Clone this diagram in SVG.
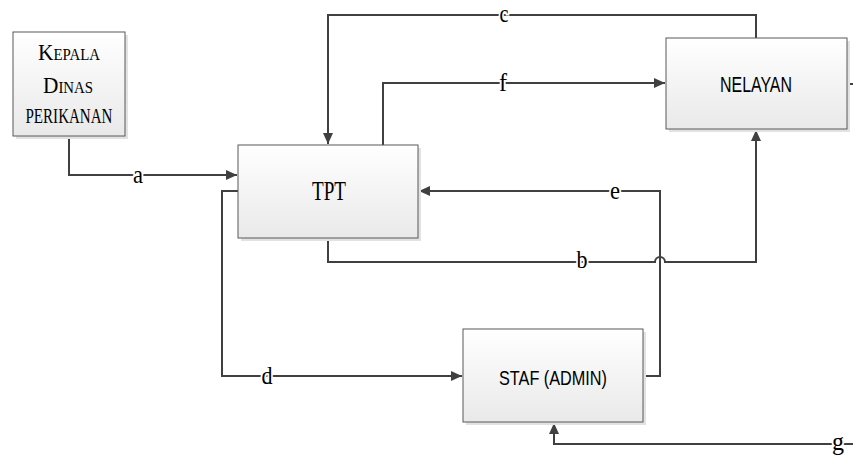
<svg xmlns="http://www.w3.org/2000/svg" width="853" height="456" viewBox="0 0 853 456">
<style>
.box{fill:url(#g1);stroke:#595959;stroke-width:1}
.sh{fill:#e2e2e2}
.ln{fill:none;stroke:#404040;stroke-width:2}
.lbl{font-family:"Liberation Serif",serif;font-size:25px;fill:#000;stroke:#fff;stroke-width:4;paint-order:stroke;text-anchor:middle}
.ser{font-family:"Liberation Serif",serif;fill:#000;text-anchor:middle}
.sc{font-variant:small-caps;font-size:23px}
.sans{font-family:"Liberation Sans",sans-serif;fill:#000;text-anchor:middle}
</style>
<defs>
<linearGradient id="g1" x1="0" y1="0" x2="0" y2="1">
<stop offset="0" stop-color="#ffffff"/>
<stop offset="1" stop-color="#e9e9e9"/>
</linearGradient>
<marker id="ar" markerUnits="userSpaceOnUse" markerWidth="11" markerHeight="10" refX="11" refY="5" orient="auto">
<path d="M0,0 L11,5 L0,10 z" fill="#404040"/>
</marker>
</defs>
<g id="connectors">
<path class="ln" d="M69,136 V175 H237" marker-end="url(#ar)"/>
<path class="ln" d="M756,38 V15 H328 V144" marker-end="url(#ar)"/>
<path class="ln" d="M383,145 V83 H665" marker-end="url(#ar)"/>
<path class="ln" d="M328,238 V262 H655 a5,5 0 0 1 10,0 H756 V130" marker-end="url(#ar)"/>
<path class="ln" d="M643,376 H660 V191 H419" marker-end="url(#ar)"/>
<path class="ln" d="M238,191 H222 V376 H462" marker-end="url(#ar)"/>
<path class="ln" d="M853,444 H554 V423" marker-end="url(#ar)"/>
<path class="ln" d="M847,84 H853"/>
<text class="lbl" x="138" y="183" textLength="10" lengthAdjust="spacingAndGlyphs">a</text>
<text class="lbl" x="504" y="22" textLength="9" lengthAdjust="spacingAndGlyphs">c</text>
<text class="lbl" x="503" y="91" textLength="8" lengthAdjust="spacingAndGlyphs">f</text>
<text class="lbl" x="582" y="268" textLength="11" lengthAdjust="spacingAndGlyphs">b</text>
<text class="lbl" x="615" y="199" textLength="10" lengthAdjust="spacingAndGlyphs">e</text>
<text class="lbl" x="267" y="384" textLength="11" lengthAdjust="spacingAndGlyphs">d</text>
<text class="lbl" x="838" y="450" textLength="12" lengthAdjust="spacingAndGlyphs">g</text>
</g>
<g id="kepala">
<rect class="sh" x="16" y="35" width="112" height="104"/>
<rect class="box" x="13" y="32" width="112" height="104"/>
<text class="ser sc" x="69" y="60" textLength="62" lengthAdjust="spacingAndGlyphs">Kepala</text>
<text class="ser sc" x="68" y="93" textLength="50" lengthAdjust="spacingAndGlyphs">Dinas</text>
<text class="ser" x="69" y="123" font-size="21" textLength="87" lengthAdjust="spacingAndGlyphs">PERIKANAN</text>
</g>
<g id="tpt">
<rect class="sh" x="241" y="148" width="180" height="93"/>
<rect class="box" x="238" y="145" width="180" height="93"/>
<text class="ser" x="329" y="200" font-size="28" textLength="34" lengthAdjust="spacingAndGlyphs">TPT</text>
</g>
<g id="nelayan">
<rect class="sh" x="669" y="41" width="181" height="91"/>
<rect class="box" x="666" y="38" width="181" height="91"/>
<text class="sans" x="756" y="92" font-size="22" textLength="72" lengthAdjust="spacingAndGlyphs">NELAYAN</text>
</g>
<g id="staf">
<rect class="sh" x="466" y="332" width="180" height="93"/>
<rect class="box" x="463" y="329" width="180" height="93"/>
<text class="sans" x="553" y="385" font-size="21" textLength="108" lengthAdjust="spacingAndGlyphs">STAF (ADMIN)</text>
</g>
</svg>
